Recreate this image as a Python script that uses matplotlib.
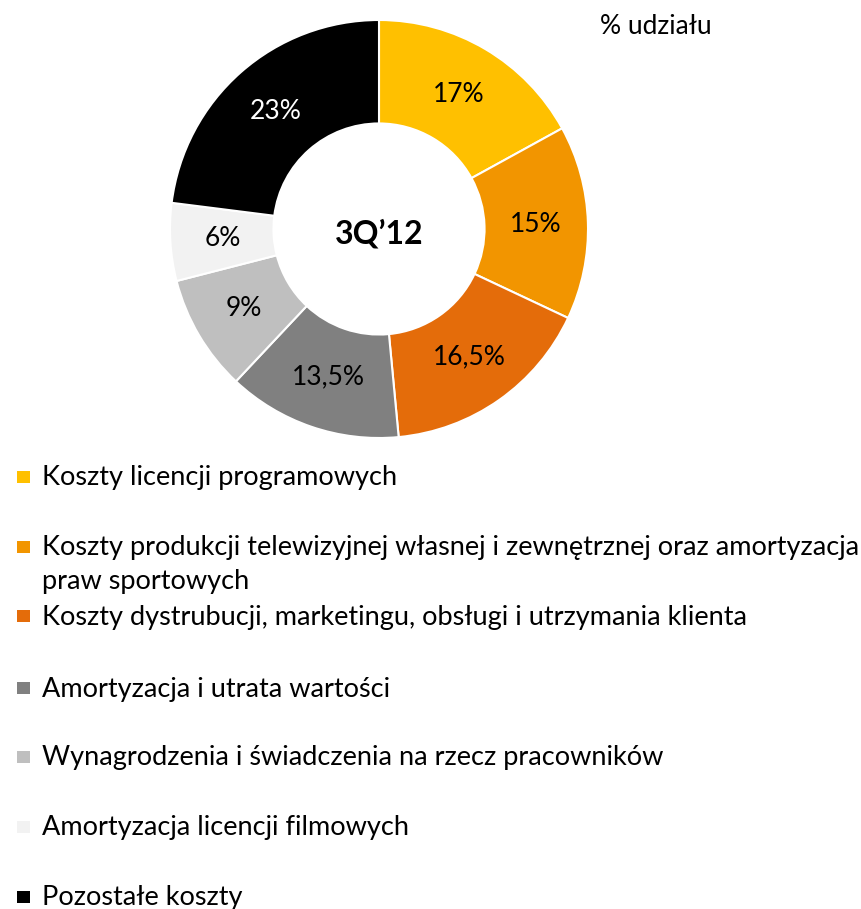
import matplotlib
matplotlib.use("Agg")
import matplotlib.pyplot as plt
from matplotlib.patches import Rectangle
import numpy as np

plt.rcParams['font.family'] = ['Lato', 'DejaVu Sans']

categories = [
    "Koszty licencji programowych",
    "Koszty produkcji telewizyjnej własnej i zewnętrznej oraz amortyzacja\npraw sportowych",
    "Koszty dystrubucji, marketingu, obsługi i utrzymania klienta",
    "Amortyzacja i utrata wartości",
    "Wynagrodzenia i świadczenia na rzecz pracowników",
    "Amortyzacja licencji filmowych",
    "Pozostałe koszty",
]
values = [17, 15, 16.5, 13.5, 9, 6, 23]
value_labels = ["17%", "15%", "16,5%", "13,5%", "9%", "6%", "23%"]
colors = ["#FFC000", "#F29500", "#E46C0A", "#808080", "#BFBFBF", "#F2F2F2", "#000000"]
label_colors = ["black", "black", "black", "black", "black", "black", "white"]
center_label = "3Q’12"
unit_label = "% udziału"

W, H = 861, 909
fig = plt.figure(figsize=(W / 100, H / 100), dpi=100)

# donut axes
cx, cy, r = 379, 229, 209
ax = fig.add_axes([(cx - r) / W, (H - cy - r) / H, 2 * r / W, 2 * r / H])
wedges, _ = ax.pie(values, colors=colors, startangle=90, counterclock=False,
                   radius=1.0,
                   wedgeprops=dict(width=0.495, edgecolor="white", linewidth=1.5))
total = sum(values)
cum = 0
for v, lab, lc in zip(values, value_labels, label_colors):
    mid = 90 - (cum + v / 2) / total * 360
    cum += v
    rr = 0.75
    ax.text(rr * np.cos(np.radians(mid)), rr * np.sin(np.radians(mid)), lab,
            ha="center", va="center", fontsize=19, color=lc)
ax.text(0, -0.02, center_label, ha="center", va="center", fontsize=23, fontweight="bold")
ax.set_xlim(-1, 1)
ax.set_ylim(-1, 1)
ax.set_aspect("equal")
ax.axis("off")

fig.text(600 / W, 1 - 27 / H, unit_label, ha="left", va="center", fontsize=19)

# legend
fs = 19.5
row_y = [477, 547, 616, 688, 757, 827, 897]
for y, lab, col in zip(row_y, categories, colors):
    sq = 12.5
    fig.patches.append(Rectangle((17 / W, 1 - (y + sq / 2) / H), sq / W, sq / H,
                                 transform=fig.transFigure, facecolor=col,
                                 edgecolor="none"))
    lines = lab.split("\n")
    for i, line in enumerate(lines):
        fig.text(42 / W, 1 - (y + 1 + 34 * i) / H, line, ha="left", va="center", fontsize=fs)

fig.savefig("out.png", dpi=100, facecolor="white")
